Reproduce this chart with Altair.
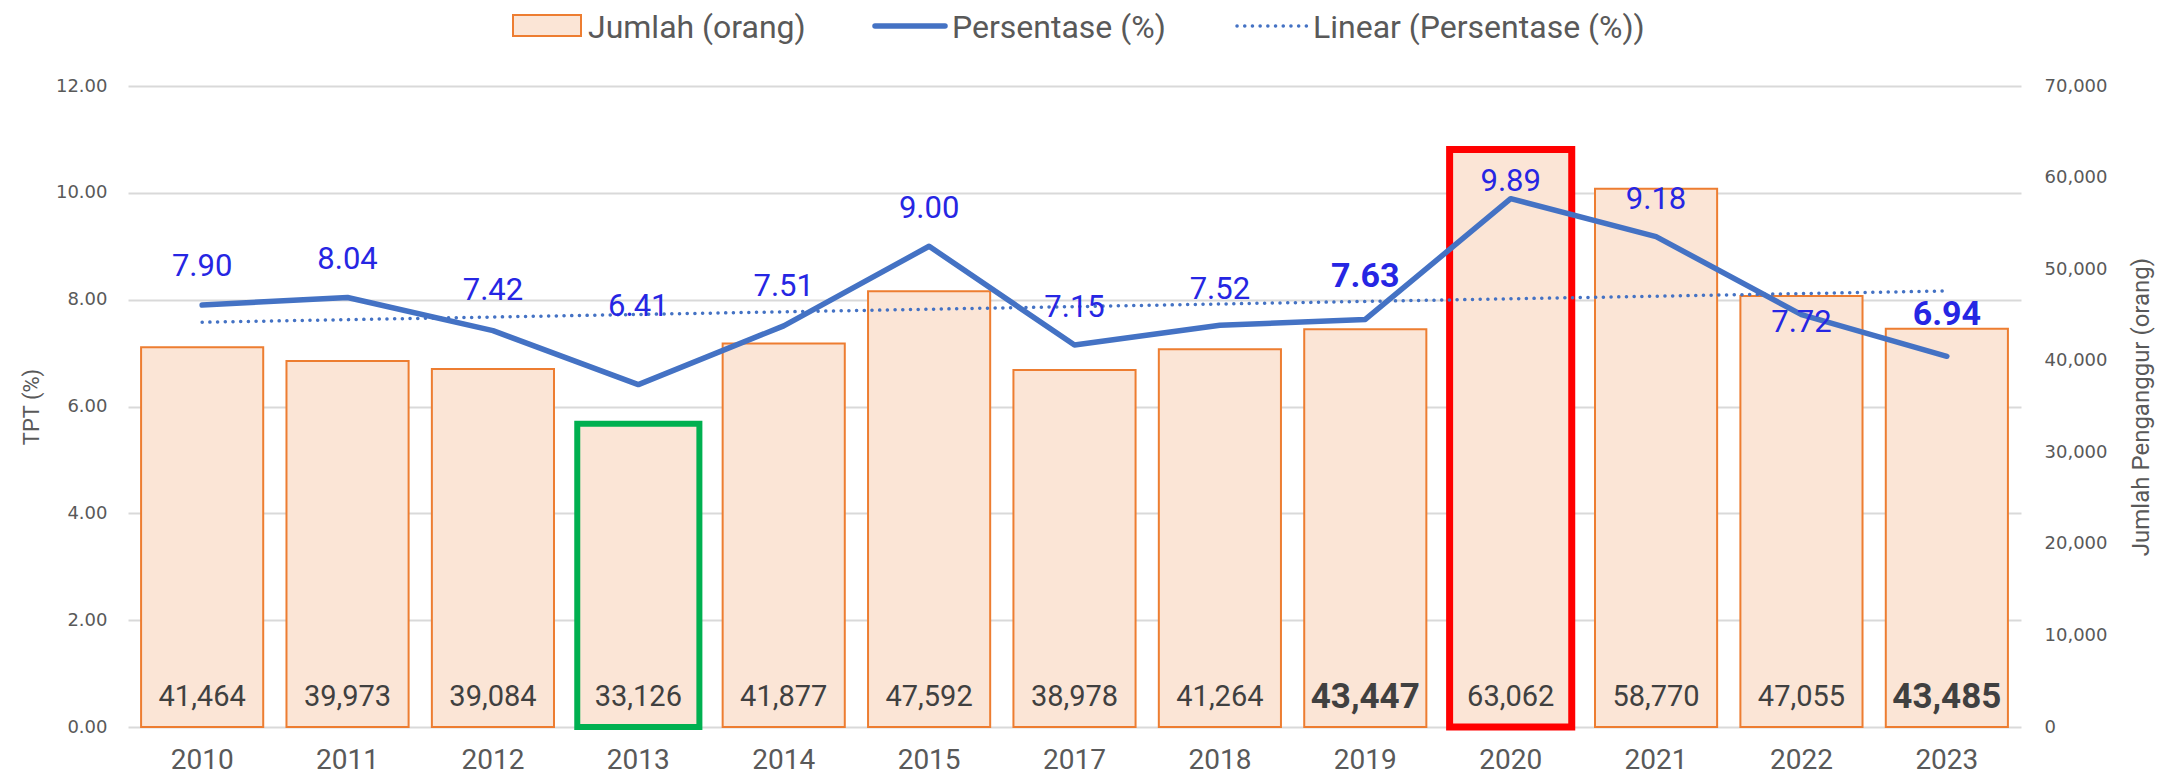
import altair as alt
import pandas as pd
import numpy as np

# ---------------- data ----------------
years = ["2010", "2011", "2012", "2013", "2014", "2015", "2017",
         "2018", "2019", "2020", "2021", "2022", "2023"]
jumlah = [41464, 39973, 39084, 33126, 41877, 47592, 38978,
          41264, 43447, 63062, 58770, 47055, 43485]
persen = [7.90, 8.04, 7.42, 6.41, 7.51, 9.00, 7.15,
          7.52, 7.63, 9.89, 9.18, 7.72, 6.94]
# where each percentage label sits (in TPT units)
label_anchor = [8.61, 8.74, 8.16, 7.86, 8.24, 9.70, 7.85,
                8.18, 8.42, 10.20, 9.87, 7.56, 7.72]
bold_years = ["2019", "2023"]
legend_labels = ["Jumlah (orang)", "Persentase (%)", "Linear (Persentase (%))"]
left_ticks = [0, 2, 4, 6, 8, 10, 12]
right_ticks = [0, 10000, 20000, 30000, 40000, 50000, 60000, 70000]

# linear trend of the percentage series (Excel-style, on category index)
idx = np.arange(1, len(years) + 1)
slope, intercept = np.polyfit(idx, persen, 1)
trend = (slope * idx + intercept).tolist()

df = pd.DataFrame({
    "year": years,
    "jumlah": jumlah,
    "persen": persen,
    "trend": trend,
    "label_anchor": label_anchor,
})
df["bold"] = df["year"].isin(bold_years)
df["jumlah_txt"] = [f"{v:,}" for v in jumlah]
df["persen_txt"] = [f"{v:.2f}" for v in persen]

# ---------------- styles ----------------
FONT = "Roboto"
TICK_FONT = "DejaVu Sans"
GREY = "#595959"
BLUE = "#4472C4"
LABEL_BLUE = "#2626E3"
BAR_FILL = "#FBE5D6"
BAR_STROKE = "#ED7D31"
W, H = 1893, 641

x_axis = alt.Axis(title=None, labelFont=FONT, labelFontSize=28,
                  labelColor=GREY, ticks=False, domain=False,
                  labelBaseline="alphabetic", labelPadding=41,
                  labelAngle=0, grid=False)
x_scale = alt.Scale(paddingInner=0.16, paddingOuter=0.09)


def X():
    return alt.X("year:N", sort=years, scale=x_scale, axis=x_axis)


right_scale = alt.Scale(domain=[0, 70000], nice=False, zero=True)
left_scale = alt.Scale(domain=[0, 12], nice=False, zero=True)

right_axis = alt.Axis(orient="right", values=right_ticks, format=",d",
                      title="Jumlah Penganggur (orang)", grid=False,
                      domain=False, ticks=False, labelFont=TICK_FONT,
                      labelFontSize=18, labelColor=GREY, labelAlign="left",
                      labelPadding=23, titleFont=FONT, titleFontSize=24,
                      titleFontWeight="normal", titleColor=GREY,
                      titleAngle=270, titleX=120, titleY=H / 2,
                      titleAlign="center", titleBaseline="middle")
left_axis = alt.Axis(orient="left", values=left_ticks, format=".2f",
                     title="TPT (%)", grid=True, gridColor="#D9D9D9",
                     gridWidth=2, domain=False, ticks=False,
                     labelFont=TICK_FONT, labelFontSize=18,
                     labelColor=GREY, labelPadding=21,
                     titleFont=FONT, titleFontSize=22,
                     titleFontWeight="normal", titleColor=GREY,
                     titleAngle=270, titleX=-97, titleY=H / 2,
                     titleAlign="center", titleBaseline="middle")

base = alt.Chart(df)

bars = base.mark_bar(fill=BAR_FILL, stroke=BAR_STROKE, strokeWidth=2).encode(
    x=X(), y=alt.Y("jumlah:Q", scale=right_scale, axis=right_axis))

hl_green = base.transform_filter(alt.datum.year == "2013").mark_bar(
    fill=BAR_FILL, stroke="#00B050", strokeWidth=6).encode(
    x=X(), y=alt.Y("jumlah:Q", scale=right_scale, axis=right_axis))
hl_red = base.transform_filter(alt.datum.year == "2020").mark_bar(
    fill=BAR_FILL, stroke="#FF0000", strokeWidth=7).encode(
    x=X(), y=alt.Y("jumlah:Q", scale=right_scale, axis=right_axis))

bar_txt = base.transform_filter("!datum.bold").mark_text(
    font=FONT, fontSize=29, color="#404040", baseline="middle", dy=-30).encode(
    x=X(), y=alt.Y("zero:Q", scale=right_scale, axis=right_axis),
    text="jumlah_txt:N").transform_calculate(zero="0")
bar_txt_b = base.transform_filter("datum.bold").mark_text(
    font=FONT, fontSize=35, fontWeight="bold", color="#404040",
    baseline="middle", dy=-30).encode(
    x=X(), y=alt.Y("zero:Q", scale=right_scale, axis=right_axis),
    text="jumlah_txt:N").transform_calculate(zero="0")

bar_group = alt.layer(bars, hl_green, hl_red, bar_txt, bar_txt_b).resolve_scale(y="shared")

line = base.mark_line(color=BLUE, strokeWidth=5.5, strokeCap="round",
                      strokeJoin="round").encode(
    x=X(), y=alt.Y("persen:Q", scale=left_scale, axis=left_axis))

trend_line = base.mark_line(color=BLUE, strokeWidth=3.5, strokeDash=[0.1, 7.6],
                            strokeCap="round").encode(
    x=X(), y=alt.Y("trend:Q", scale=left_scale, axis=left_axis))

pct_txt = base.transform_filter("!datum.bold").mark_text(
    font=FONT, fontSize=31, color=LABEL_BLUE, baseline="middle").encode(
    x=X(), y=alt.Y("label_anchor:Q", scale=left_scale, axis=left_axis),
    text="persen_txt:N")
pct_txt_b = base.transform_filter("datum.bold").mark_text(
    font=FONT, fontSize=34, fontWeight="bold", color=LABEL_BLUE,
    baseline="middle").encode(
    x=X(), y=alt.Y("label_anchor:Q", scale=left_scale, axis=left_axis),
    text="persen_txt:N")

# ---------------- legend (drawn above the plot area) ----------------
LY = -60
leg0 = pd.DataFrame({"label": [legend_labels[0]]})
leg1 = pd.DataFrame({"label": [legend_labels[1]]})
leg2 = pd.DataFrame({"label": [legend_labels[2]]})

leg_rect = alt.Chart(leg0).mark_rect(fill=BAR_FILL, stroke=BAR_STROKE, strokeWidth=2).encode(
    x=alt.value(385), x2=alt.value(453), y=alt.value(LY - 11), y2=alt.value(LY + 10))
leg_txt0 = alt.Chart(leg0).mark_text(font=FONT, fontSize=32, color=GREY, align="left",
                                     baseline="middle", dy=2).encode(
    x=alt.value(460), y=alt.value(LY), text="label:N")
leg_line = alt.Chart(leg1).mark_rule(color=BLUE, strokeWidth=5.5, strokeCap="round").encode(
    x=alt.value(747), x2=alt.value(817), y=alt.value(LY))
leg_txt1 = alt.Chart(leg1).mark_text(font=FONT, fontSize=32, color=GREY, align="left",
                                     baseline="middle", dy=2).encode(
    x=alt.value(824), y=alt.value(LY), text="label:N")
leg_dot = alt.Chart(leg2).mark_rule(color=BLUE, strokeWidth=3.5, strokeDash=[0.1, 7.6],
                                    strokeCap="round").encode(
    x=alt.value(1109), x2=alt.value(1180), y=alt.value(LY))
leg_txt2 = alt.Chart(leg2).mark_text(font=FONT, fontSize=32, color=GREY, align="left",
                                     baseline="middle", dy=2).encode(
    x=alt.value(1185), y=alt.value(LY), text="label:N")

line_group = alt.layer(trend_line, line, pct_txt, pct_txt_b,
                       leg_rect, leg_txt0, leg_line, leg_txt1, leg_dot,
                       leg_txt2).resolve_scale(y="shared")

chart = alt.layer(bar_group, line_group).resolve_scale(y="independent").properties(
    width=W, height=H,
    autosize=alt.AutoSizeParams(type="none"),
    padding={"left": 120, "top": 78, "right": 144, "bottom": 47},
).configure(background="white", view=alt.ViewConfig(stroke="transparent"))

chart.save("out.html", embed_options={"renderer": "svg", "actions": False})
